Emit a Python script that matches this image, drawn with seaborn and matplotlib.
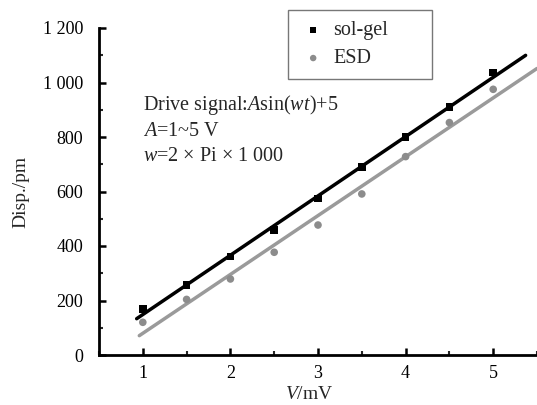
import numpy as np
import pandas as pd
import matplotlib
matplotlib.use("Agg")
import matplotlib.pyplot as plt
from matplotlib.ticker import MultipleLocator, FixedLocator, FixedFormatter
import seaborn as sns

# ---- data ----
voltage = [1.0, 1.5, 2.0, 2.5, 3.0, 3.5, 4.0, 4.5, 5.0]
solgel = [169, 257, 361, 459, 575, 689, 799, 909, 1036]
esd = [120, 204, 279, 377, 477, 591, 728, 853, 975]
series_names = ["sol-gel", "ESD"]
yticks = [0, 200, 400, 600, 800, 1000, 1200]
ytick_labels = ["0", "200", "400", "600", "800", "1 000", "1 200"]
xticks = [1, 2, 3, 4, 5]
xtick_labels = ["1", "2", "3", "4", "5"]
fit_range_solgel = [0.93, 5.37]
fit_range_esd = [0.96, 5.5]

sns.set_style("white")
plt.rcParams["font.family"] = ["Liberation Serif", "DejaVu Serif"]
plt.rcParams["mathtext.fontset"] = "custom"
plt.rcParams["mathtext.rm"] = "Liberation Serif"
plt.rcParams["mathtext.it"] = "Liberation Serif:italic"

W, H = 537, 405
fig = plt.figure(figsize=(W / 100, H / 100), dpi=100)
ax_l, ax_b, ax_w, ax_h = 99, 50, 438, 327
ax = fig.add_axes([ax_l / W, ax_b / H, ax_w / W, ax_h / H])

def ypx(p):
    # pixel row from the top of the image -> axes fraction
    return (H - ax_b - p) / ax_h

def xpx(p):
    return (p - ax_l) / ax_w

df = pd.DataFrame({"V": voltage, "sol-gel": solgel, "ESD": esd})

# fit lines
for name, rng, col in [("sol-gel", fit_range_solgel, "black"), ("ESD", fit_range_esd, "#9a9a9a")]:
    k, b = np.polyfit(df["V"], df[name], 1)
    xs = np.array(rng)
    sns.lineplot(x=xs, y=k * xs + b, color=col, lw=2.5, ax=ax, legend=False, zorder=2)

sns.scatterplot(data=df, x="V", y="sol-gel", marker="s", s=30, color="black",
                edgecolor="none", label=series_names[0], ax=ax, zorder=3)
sns.scatterplot(data=df, x="V", y="ESD", marker="o", s=30, color="#8c8c8c",
                edgecolor="none", label=series_names[1], ax=ax, zorder=3)

ax.set_xlim(0.5, 5.5)
ax.set_ylim(0, 1200)
ax.xaxis.set_major_locator(FixedLocator(xticks))
ax.xaxis.set_major_formatter(FixedFormatter(xtick_labels))
ax.yaxis.set_major_locator(FixedLocator(yticks))
ax.yaxis.set_major_formatter(FixedFormatter(ytick_labels))
ax.xaxis.set_minor_locator(MultipleLocator(0.5))
ax.yaxis.set_minor_locator(MultipleLocator(100))
ax.tick_params(which="major", direction="in", length=5, width=1.8, labelsize=13, colors="black")
ax.tick_params(which="minor", direction="in", length=3, width=1.5)
ax.tick_params(axis="x", which="both", bottom=True, pad=7)
ax.tick_params(axis="y", which="both", left=True, pad=11.5)

for s in ["top", "right"]:
    ax.spines[s].set_visible(False)
for s in ["left", "bottom"]:
    ax.spines[s].set_linewidth(2.0)
    ax.spines[s].set_color("black")

ax.set_xlabel(r"$\it{V}$/mV", fontsize=14)
ax.set_ylabel("Disp./pm", fontsize=14)
ax.xaxis.set_label_coords(xpx(309), ypx(386))
ax.yaxis.set_label_coords(xpx(29), 0.5)

tx = xpx(143)
ax.text(tx, ypx(110), r"Drive signal:$\it{A}$sin($\it{wt}$)+5", transform=ax.transAxes, fontsize=14.5, va="baseline")
ax.text(tx, ypx(136), r"$\it{A}$=1~5 V", transform=ax.transAxes, fontsize=14.5, va="baseline")
ax.text(tx, ypx(161), r"$\it{w}$=2 × Pi × 1 000", transform=ax.transAxes, fontsize=14.5, va="baseline")

leg = ax.legend(loc="upper left",
                bbox_to_anchor=(xpx(288), ypx(77), 144 / ax_w, 67 / ax_h),
                mode="expand", borderaxespad=0,
                frameon=True, fancybox=False, edgecolor="#555555", fontsize=14.5,
                handletextpad=0.3, labelspacing=0.45, borderpad=0.55, handlelength=1.4,
                markerscale=0.85)
leg.get_frame().set_linewidth(1.0)

fig.savefig("out.png", dpi=100)
